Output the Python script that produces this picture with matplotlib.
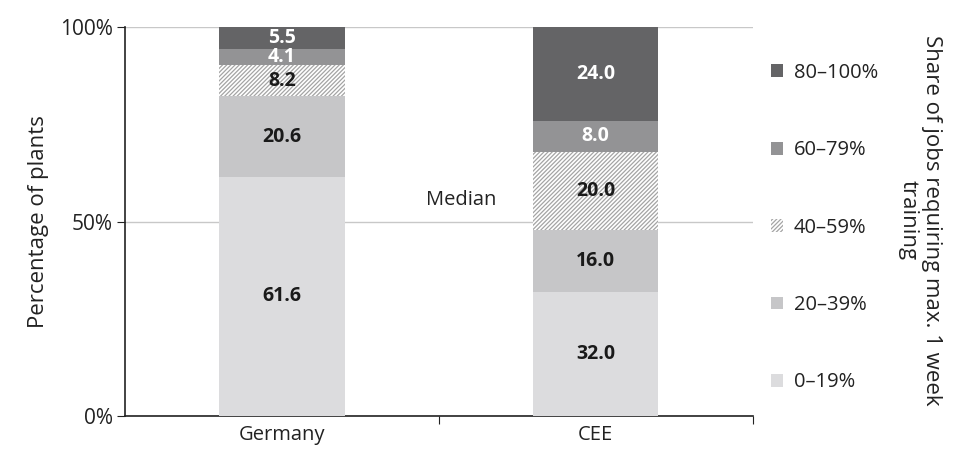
import numpy as np
import matplotlib.pyplot as plt
import matplotlib as mpl

plt.rcParams['font.family'] = ['Open Sans', 'DejaVu Sans']
mpl.rcParams['hatch.linewidth'] = 0.9

# data
regions = ['Germany', 'CEE']
bands = ['0\u201319%', '20\u201339%', '40\u201359%', '60\u201379%', '80\u2013100%']
germany = [61.6, 20.6, 8.2, 4.1, 5.5]
cee = [32.0, 16.0, 20.0, 8.0, 24.0]

colors = ['#dcdcde', '#c6c6c8', 'white', '#939395', '#646466']
text_colors = ['#1a1a1a', '#1a1a1a', '#1a1a1a', 'white', 'white']

fig, ax = plt.subplots(figsize=(9.55, 4.54), dpi=100)
fig.subplots_adjust(left=0.131, right=0.788, top=0.94, bottom=0.083)

x = np.arange(len(regions))
vals = np.array([germany, cee])
bottom = np.zeros(len(regions))
handles = []
for i, band in enumerate(bands):
    if i == 2:
        b = ax.bar(x, vals[:, i], 0.4, bottom=bottom, color='white',
                   edgecolor='#a4a4a4', hatch='////////', linewidth=0, zorder=3, label=band)
    else:
        b = ax.bar(x, vals[:, i], 0.4, bottom=bottom, color=colors[i],
                   linewidth=0, zorder=3, label=band)
    handles.append(b)
    for j in range(len(regions)):
        ax.text(x[j], bottom[j] + vals[j, i] / 2, '%.1f' % vals[j, i],
                ha='center', va='center', fontsize=14, fontweight='bold',
                color=text_colors[i], zorder=4)
    bottom += vals[:, i]

ax.set_xlim(-0.5, 1.5)
ax.set_ylim(0, 100)
ax.set_yticks([0, 50, 100])
ax.set_yticklabels(['0%', '50%', '100%'], fontsize=15, color='#222222')
ax.set_xticks([0.5, 1.5], minor=False)
ax.set_xticklabels(['', ''])
ax.set_xticks(x, minor=True)
ax.set_xticklabels(regions, minor=True, fontsize=14.5, color='#222222')
ax.tick_params(axis='x', which='minor', length=0, pad=6)
ax.tick_params(axis='x', which='major', length=6, direction='out', color='#222222')
ax.tick_params(axis='y', length=6, direction='out', color='#222222', pad=3)

ax.yaxis.grid(True, color='#c8c8c8', linewidth=1, zorder=0)
ax.set_axisbelow(True)
for s in ['top', 'right']:
    ax.spines[s].set_visible(False)
for s in ['left', 'bottom']:
    ax.spines[s].set_color('#222222')
    ax.spines[s].set_linewidth(1.2)

ax.set_ylabel('Percentage of plants', fontsize=16, color='#222222', labelpad=8)
ax.text(0.57, 55.5, 'Median', ha='center', va='center', fontsize=14.5, color='#222222')

leg = ax.legend(handles[::-1], bands[::-1], loc='center left', bbox_to_anchor=(1.0, 0.485),
                frameon=False, fontsize=14.5, handlelength=0.6, handleheight=0.6,
                labelspacing=2.85, handletextpad=0.55)
for t in leg.get_texts():
    t.set_color('#222222')

fig.text(0.963, 0.515, 'Share of jobs requiring max. 1 week\ntraining', rotation=-90,
         ha='center', va='center', fontsize=16, color='#222222', linespacing=1.15)

fig.savefig('out.png', dpi=100)
